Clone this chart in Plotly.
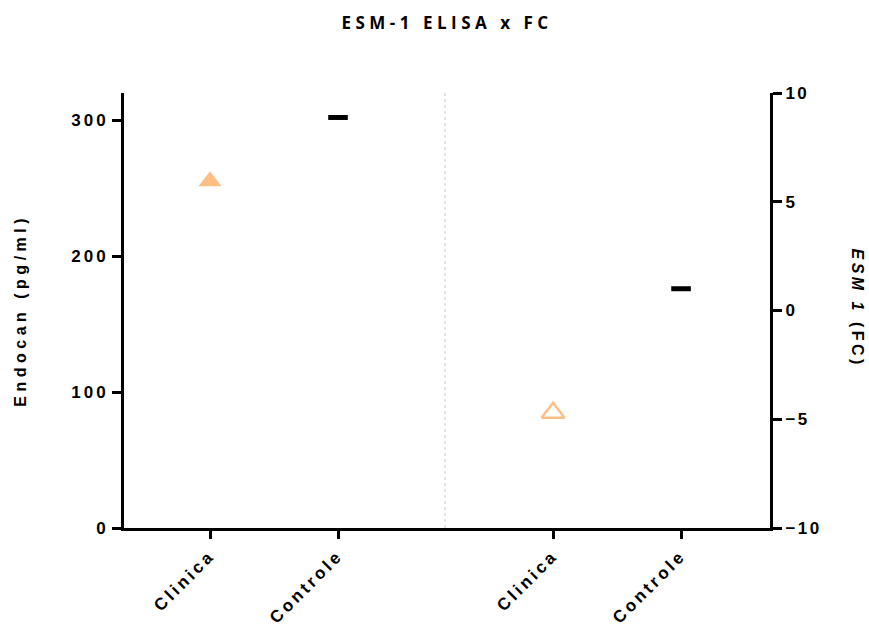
import plotly.graph_objects as go

# Category labels for the two panels (ELISA on the left axis, FC on the right axis)
categories = ["Clinica", "Controle", "Clinica", "Controle"]

# Endocan ELISA values (pg/ml), left axis
elisa_clinica = [255]
elisa_controle = [302]

# ESM-1 fold change values, right axis
fc_clinica = [-4.7]
fc_controle = [1.0]

# x layout: two categories per panel, with a wider gap between the panels
step = 1.0
panel_gap = 2.68
x_pos = [0, step, panel_gap, panel_gap + step]
x_range = [-0.672, 4.375]
divider_x = 1.836

orange = "#FDBF84"
tick_font = dict(family="Liberation Sans", size=17, color="black", weight="bold")
label_font = dict(family="Liberation Sans", size=16, color="black", weight="bold")

fig = go.Figure()

fig.add_trace(go.Scatter(
    x=[x_pos[0]], y=elisa_clinica, mode="markers",
    marker=dict(symbol="triangle-up", size=20, color=orange, line=dict(width=0)),
    showlegend=False, cliponaxis=False,
))
fig.add_trace(go.Scatter(
    x=[x_pos[1]], y=elisa_controle, mode="markers",
    marker=dict(symbol="line-ew", size=14, line=dict(width=5, color="black")),
    showlegend=False, cliponaxis=False,
))
fig.add_trace(go.Scatter(
    x=[x_pos[2]], y=fc_clinica, mode="markers", yaxis="y2",
    marker=dict(symbol="triangle-up-open", size=20, color=orange, line=dict(width=2.5, color=orange)),
    showlegend=False, cliponaxis=False,
))
fig.add_trace(go.Scatter(
    x=[x_pos[3]], y=fc_controle, mode="markers", yaxis="y2",
    marker=dict(symbol="line-ew", size=14, line=dict(width=5, color="black")),
    showlegend=False, cliponaxis=False,
))

L, R, T, B = 124, 770, 93, 528

fig.update_layout(
    width=869, height=631,
    margin=dict(l=L, r=869 - R, t=T, b=631 - B),
    plot_bgcolor="white", paper_bgcolor="white",
    title=dict(
        text="ESM-1 ELISA x FC", x=0.5, xref="paper", y=1 - 23 / 631, yanchor="middle",
        font=dict(family="Open Sans", size=17, color="black", weight="bold"),
    ),
    xaxis=dict(
        range=x_range, tickvals=x_pos, ticktext=categories, tickangle=-45,
        showline=True, linecolor="black", linewidth=3, mirror=False,
        ticks="outside", ticklen=8, tickwidth=3, tickcolor="black",
        showgrid=False, zeroline=False, tickfont=tick_font,
    ),
    yaxis=dict(
        range=[0, 320], tickvals=[0, 100, 200, 300],
        showline=True, linecolor="black", linewidth=3,
        ticks="outside", ticklen=9, tickwidth=3, tickcolor="black",
        showgrid=False, zeroline=False, tickfont=tick_font,
    ),
    yaxis2=dict(
        range=[-10, 10], tickvals=[-10, -5, 0, 5, 10], overlaying="y", side="right",
        showline=True, linecolor="black", linewidth=3,
        ticks="outside", ticklen=9, tickwidth=3, tickcolor="black",
        showgrid=False, zeroline=False, tickfont=tick_font,
    ),
    shapes=[dict(
        type="line", xref="x", yref="paper", x0=divider_x, x1=divider_x, y0=0, y1=1,
        line=dict(color="#C8C8C8", width=1, dash="dot"),
    )],
    annotations=[
        dict(
            text="Endocan (pg/ml)", textangle=-90, xref="paper", yref="paper",
            x=(20 - L) / (R - L), y=(B - 311) / (B - T),
            xanchor="center", yanchor="middle", showarrow=False, font=label_font,
            name="left-title",
        ),
        dict(
            text="<i>ESM 1</i> (FC)", textangle=90, xref="paper", yref="paper",
            x=(858 - L) / (R - L), y=(B - 308) / (B - T),
            xanchor="center", yanchor="middle", showarrow=False, font=label_font,
            name="right-title",
        ),
    ],
)

# Widen the letter spacing of every text element, as in the GraphPad style
spacing_js = """
var gd = document.getElementById('{plot_id}');
function spaceText() {
  var rules = [
    ['.gtitle', '4.5px'],
    ['.xtick text', '3.2px'],
    ['.ytick text', '3px'],
    ['.y2tick text', '2.5px']
  ];
  rules.forEach(function (r) {
    gd.querySelectorAll(r[0]).forEach(function (el) { el.style.letterSpacing = r[1]; });
  });
  var ann = gd.querySelectorAll('.annotation-text');
  if (ann.length > 0) { ann[0].style.letterSpacing = '4.5px'; }
  if (ann.length > 1) { ann[1].style.letterSpacing = '3.5px'; }
}
spaceText();
if (gd.on) { gd.on('plotly_afterplot', spaceText); }
"""

fig.write_html("out.html", post_script=spacing_js)
